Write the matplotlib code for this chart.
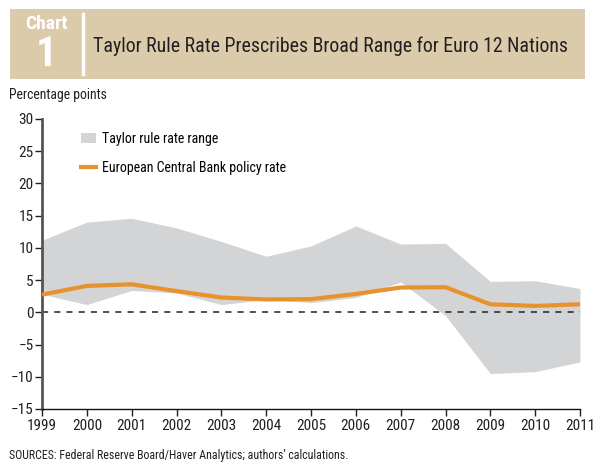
import numpy as np
import matplotlib.pyplot as plt
from matplotlib.patches import Rectangle, Patch
from matplotlib.lines import Line2D

plt.rcParams["font.family"] = ["Roboto Condensed", "DejaVu Sans"]

years = np.arange(1999, 2012)
taylor_high = [11.2, 14.0, 14.6, 13.1, 11.0, 8.7, 10.3, 13.4, 10.6, 10.7, 4.8, 4.9, 3.7]
taylor_low = [2.8, 1.2, 3.4, 3.0, 1.2, 2.0, 1.5, 2.3, 4.7, -0.5, -9.5, -9.2, -7.7]
ecb_rate = [2.75, 4.1, 4.35, 3.3, 2.3, 2.0, 2.05, 2.85, 3.85, 3.9, 1.25, 1.0, 1.25]

band_color = "#d3d4d6"
ecb_color = "#e8922e"
tan = "#dccbab"
ink = "#231f20"

fig = plt.figure(figsize=(5.99, 4.74), dpi=100)

# header box
fig.patches.append(Rectangle((10 / 599, 1 - 79 / 474), 575 / 599, 70 / 474,
                             transform=fig.transFigure, facecolor=tan,
                             edgecolor="none", zorder=0))
fig.add_artist(Line2D([83 / 599, 83 / 599], [1 - 14 / 474, 1 - 74 / 474],
                      transform=fig.transFigure, color="white", lw=2.5))
fig.text(46 / 599, 1 - 24 / 474, "Chart", color="white", fontsize=14,
         fontweight="bold", ha="center", va="center")
fig.text(46 / 599, 1 - 55 / 474, "1", color="white", fontsize=30,
         fontweight="bold", ha="center", va="center")
fig.text(93 / 599, 1 - 46 / 474,
         "Taylor Rule Rate Prescribes Broad Range for Euro 12 Nations",
         color=ink, fontsize=14.3, ha="left", va="center")
fig.text(9 / 599, 1 - 95 / 474, "Percentage points", fontsize=9.9,
         ha="left", va="center", color=ink)
fig.text(9 / 599, 1 - 455 / 474,
         "SOURCES: Federal Reserve Board/Haver Analytics; authors\u2019 calculations.",
         fontsize=8.6, ha="left", va="center", color=ink)

ax = fig.add_axes([42 / 599, 65 / 474, 538 / 599, 290 / 474])
ax.fill_between(years, taylor_low, taylor_high, color=band_color, lw=0, zorder=1)
ax.plot(years, ecb_rate, color=ecb_color, lw=3.0, zorder=3, solid_capstyle="butt")
ax.plot([years[0], years[-1]], [0, 0], color="#222222", lw=1.1,
        ls=(0, (4, 4)), zorder=2)

ax.set_xlim(1999, 2011)
ax.set_ylim(-15, 30)
ax.set_xticks(years)
ax.set_yticks(np.arange(-15, 31, 5))
ax.set_yticklabels(["\u2212" + str(-v) if v < 0 else str(v)
                    for v in range(-15, 31, 5)])
ax.tick_params(axis="both", labelsize=11, colors=ink, length=5,
               width=1, direction="out", pad=2)
ax.tick_params(axis="y", pad=1)
for side in ["top", "right"]:
    ax.spines[side].set_visible(False)
ax.spines["left"].set_color("#555555")
ax.spines["left"].set_linewidth(2)
ax.spines["bottom"].set_color("#111111")
ax.spines["bottom"].set_linewidth(1)

handles = [Patch(facecolor=band_color, edgecolor="none"),
           Line2D([], [], color=ecb_color, lw=3.0)]
labels = ["Taylor rule rate range", "European Central Bank policy rate"]
ax.legend(handles, labels, loc="upper left", bbox_to_anchor=(0.072, 0.955),
          frameon=False, fontsize=10.0, handlelength=1.08, handleheight=0.76,
          handletextpad=0.45, labelspacing=1.1, borderaxespad=0,
          borderpad=0)

fig.savefig("out.png", dpi=100)
